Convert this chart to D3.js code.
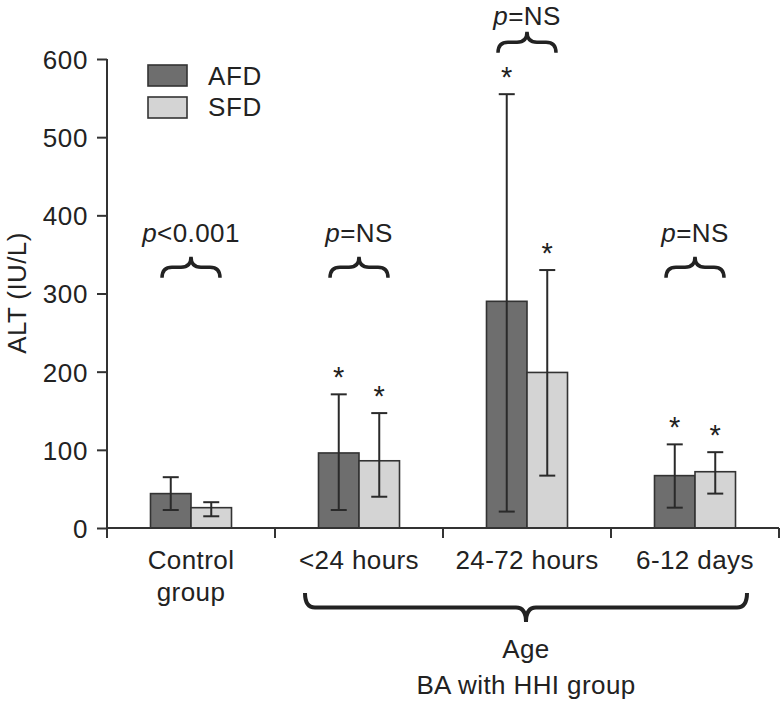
<!DOCTYPE html>
<html>
<head>
<meta charset="utf-8">
<script src="https://cdn.jsdelivr.net/npm/d3@7"></script>
<style>
  body { margin: 0; background: #fff; }
  text { font-family: "Liberation Sans", Arial, sans-serif; fill: #222; }
</style>
</head>
<body>
<div id="wrapper"></div>
<script>
// ALT by group, AFD vs SFD
const categories = ["Control group", "<24 hours", "24-72 hours", "6-12 days"];
const series = ["AFD", "SFD"];
const afdMean = [44, 96, 290, 67];
const afdHigh = [65, 171, 555, 107];
const afdLow = [23, 23, 21, 26];
const sfdMean = [26, 86, 199, 72];
const sfdHigh = [33, 147, 330, 97];
const sfdLow = [15, 40, 67, 44];
const afdStar = [false, true, true, true];
const sfdStar = [false, true, true, true];
const pLabels = ["<0.001", "=NS", "=NS", "=NS"];
const pLevel = [347, 347, 635, 347];   // brace tip, in IU/L
const yTicks = [0, 100, 200, 300, 400, 500, 600];

const W = 780, H = 705;
const mLeft = 107, mRight = 779, mTop = 59, mBottom = 528;
const colors = { AFD: "#6e6e6e", SFD: "#d4d4d4" };
const FS = 26;

var svg = d3.select("#wrapper").append("svg")
    .attr("width", W).attr("height", H);

var x = d3.scaleBand().domain(categories).range([mLeft, mRight]).padding(0);
var xs = d3.scaleBand().domain(series).range([0, x.bandwidth()]).paddingInner(0).paddingOuter(1.074);
var y = d3.scaleLinear().domain([0, 600]).range([mBottom, mTop]);

// rows
var rows = categories.map((c, i) => ({
  cat: c,
  vals: [
    { s: "AFD", m: afdMean[i], hi: afdHigh[i], lo: afdLow[i], star: afdStar[i] },
    { s: "SFD", m: sfdMean[i], hi: sfdHigh[i], lo: sfdLow[i], star: sfdStar[i] }
  ]
}));

var g = svg.selectAll(".grp").data(rows).enter().append("g")
    .attr("transform", d => "translate(" + x(d.cat) + ",0)");

g.selectAll("rect").data(d => d.vals).enter().append("rect")
    .attr("x", d => xs(d.s))
    .attr("y", d => y(d.m))
    .attr("width", xs.bandwidth())
    .attr("height", d => y(0) - y(d.m))
    .attr("fill", d => colors[d.s])
    .attr("stroke", "#333").attr("stroke-width", 1.6);

// error bars
var eb = g.selectAll(".eb").data(d => d.vals).enter().append("g")
    .attr("transform", d => "translate(" + (xs(d.s) + xs.bandwidth() / 2) + ",0)")
    .attr("stroke", "#2a2a2a").attr("stroke-width", 2);
eb.append("line").attr("y1", d => y(d.hi)).attr("y2", d => y(d.lo));
eb.append("line").attr("x1", -8).attr("x2", 8).attr("y1", d => y(d.hi)).attr("y2", d => y(d.hi));
eb.append("line").attr("x1", -8).attr("x2", 8).attr("y1", d => y(d.lo)).attr("y2", d => y(d.lo));

g.selectAll(".star").data(d => d.vals.filter(v => v.star)).enter().append("text")
    .attr("x", d => xs(d.s) + xs.bandwidth() / 2)
    .attr("y", d => y(d.hi) - 7)
    .attr("text-anchor", "middle")
    .style("font-size", "29px")
    .text("*");

// axes
var yAxis = svg.append("g").attr("transform", "translate(" + mLeft + ",0)")
    .call(d3.axisLeft(y).tickValues(yTicks).tickSize(10).tickPadding(9));
yAxis.select(".domain").attr("d", "M0," + mTop + "V" + (mBottom + 10));
var xAxis = svg.append("g").attr("transform", "translate(0," + mBottom + ")")
    .call(d3.axisBottom(x).tickSize(0).tickFormat(""));
xAxis.select(".domain").attr("d", "M" + mLeft + ",0H" + mRight);
xAxis.selectAll(".sep").data(categories).enter().append("line")
    .attr("class", "sep")
    .attr("x1", d => x(d) + x.bandwidth())
    .attr("x2", d => x(d) + x.bandwidth())
    .attr("y1", 0).attr("y2", 10);
svg.selectAll(".domain, .tick line, .sep").attr("stroke", "#333").attr("stroke-width", 2);
yAxis.selectAll("text").style("font-size", FS + "px").style("letter-spacing", "0.6px")
    .attr("fill", "#222").attr("dy", "0.36em");

// category labels
var catLines = { "Control group": ["Control", "group"] };
categories.forEach(c => {
  var lines = catLines[c] || [c];
  lines.forEach((ln, k) => {
    svg.append("text")
      .attr("x", x(c) + x.bandwidth() / 2)
      .attr("y", 569 + k * 32)
      .attr("text-anchor", "middle")
      .style("font-size", FS + "px").style("letter-spacing", "0.4px")
      .text(ln);
  });
});

// y title
svg.append("text")
    .attr("transform", "translate(26,293) rotate(-90)")
    .attr("text-anchor", "middle")
    .style("font-size", FS + "px").style("letter-spacing", "0.4px")
    .text("ALT (IU/L)");

// legend
var leg = svg.append("g");
series.forEach((s, i) => {
  leg.append("rect").attr("x", 148).attr("y", 65 + i * 32).attr("width", 39).attr("height", 21)
    .attr("fill", colors[s]).attr("stroke", "#333").attr("stroke-width", 1.6);
  leg.append("text").attr("x", 208).attr("y", 85 + i * 31)
    .style("font-size", FS + "px").style("letter-spacing", "0.6px").text(s);
});

// curly brace, dir = 1 tip up / -1 tip down
function brace(cx, yTip, halfW, h, dir, r) {
  var mid = yTip + dir * h / 2, end = yTip + dir * h;
  var p = d3.path();
  p.moveTo(cx - halfW, end);
  p.quadraticCurveTo(cx - halfW, mid, cx - halfW + r, mid);
  p.lineTo(cx - r, mid);
  p.quadraticCurveTo(cx, mid, cx, yTip);
  p.quadraticCurveTo(cx, mid, cx + r, mid);
  p.lineTo(cx + halfW - r, mid);
  p.quadraticCurveTo(cx + halfW, mid, cx + halfW, end);
  return p.toString();
}

categories.forEach((c, i) => {
  var cx = x(c) + x.bandwidth() / 2;
  var yt = y(pLevel[i]);
  svg.append("path").attr("d", brace(cx, yt, 29, 21, 1, 10))
    .attr("fill", "none").attr("stroke", "#222").attr("stroke-width", 3.5);
  var t = svg.append("text").attr("x", cx).attr("y", Math.max(yt - 15, 25))
    .attr("text-anchor", "middle")
    .style("font-size", FS + "px").style("letter-spacing", "0.4px");
  t.append("tspan").style("font-style", "italic").text("p");
  t.append("tspan").text(pLabels[i]);
});

// bottom brace over BA groups
var bx0 = x(categories[1]) + 30, bx1 = x(categories[3]) + x.bandwidth() - 32;
svg.append("path").attr("d", brace((bx0 + bx1) / 2, 622, (bx1 - bx0) / 2, 29, -1, 10))
    .attr("fill", "none").attr("stroke", "#222").attr("stroke-width", 4);
svg.append("text").attr("x", (bx0 + bx1) / 2).attr("y", 658).attr("text-anchor", "middle")
    .style("font-size", FS + "px").style("letter-spacing", "0.4px").text("Age");
svg.append("text").attr("x", (bx0 + bx1) / 2).attr("y", 694).attr("text-anchor", "middle")
    .style("font-size", FS + "px").style("letter-spacing", "0.4px").text("BA with HHI group");
</script>
</body>
</html>
